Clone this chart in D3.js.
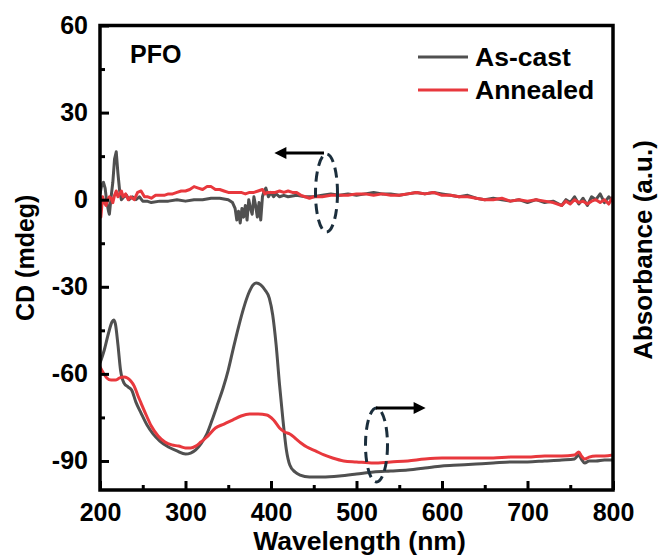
<!DOCTYPE html>
<html>
<head>
<meta charset="utf-8">
<script src="https://cdn.jsdelivr.net/npm/d3@7"></script>
<style>
  html, body { margin: 0; padding: 0; background: #fff; }
  svg text { font-family: "Liberation Sans", Arial, sans-serif; font-weight: bold; fill: #000; }
</style>
</head>
<body>
<div id="chart"></div>
<script>
// CD spectra (left axis, mdeg): [wavelength, value]
const cdAsCast = [
  [200, 2], [202, 5], [204, 6], [206, 4], [208, -1], [210, -4], [211, -5], [213, 1], [215, 6], [217, 14],
  [219, 16.5], [221, 9], [223, 3], [225, 0], [228, 1], [231, 1.5], [234, 0], [238, 1], [242, 0], [246, 1],
  [250, -0.5], [255, -0.5], [260, -1], [270, -0.5], [280, -0.5], [290, 0], [300, -0.5], [310, 0], [320, 0],
  [330, 0.5], [340, 0.5], [350, 0], [355, -1], [358, -3], [360, -7], [362, -4], [364, -8], [366, -3],
  [368, -6], [370, -2], [372, -7], [374, 0], [376, -3], [378, -5], [380, 1], [382, -2], [384, -6],
  [386, -1], [388, -7], [390, 1], [392, 3], [394, 4], [397, 1], [400, 2.5], [403, 1], [406, 2], [410, 1],
  [415, 1.5], [420, 1], [430, 1.5], [440, 1], [450, 1], [460, 1.5], [470, 2], [480, 1.5], [490, 2],
  [500, 1.5], [510, 2], [520, 2.5], [530, 2], [540, 2], [550, 1.5], [560, 2], [570, 2.5], [580, 2],
  [590, 2.5], [600, 2], [610, 1.5], [620, 1], [630, 1.5], [640, 0.5], [650, 0], [660, 0.5], [670, 0],
  [680, -0.5], [690, 0], [700, -1], [710, 0], [720, -1], [730, -0.5], [740, -2], [745, 0], [750, -1],
  [755, 1], [760, -1.5], [765, 0.5], [770, -2], [775, 1], [780, 0], [785, 2], [790, -1], [795, 1], [800, -0.5]
];
const cdAnnealed = [
  [200, -3], [201, -6], [203, 1], [205, -1], [207, -2], [209, 0], [211, 1], [213, 0.5], [215, -1], [217, 1.5],
  [219, 3], [221, 1], [223, 2], [225, 3], [227, 1], [230, 2], [233, 0], [236, 1], [240, 0], [244, 2.5],
  [248, 3], [252, 1], [256, 1], [260, 0.5], [265, 1.5], [270, 1.5], [275, 1.5], [280, 2], [285, 2],
  [290, 2.5], [295, 3], [300, 3], [305, 3.5], [310, 4.5], [315, 4], [320, 3.5], [325, 4.5], [330, 4.5],
  [335, 3.5], [340, 3.5], [345, 3], [350, 2.5], [355, 2.5], [360, 2.5], [365, 2.5], [370, 2], [375, 2.5],
  [380, 2.5], [385, 3], [390, 3.5], [393, 2], [396, 2.5], [400, 2.5], [405, 2.5], [410, 3], [415, 2.5],
  [420, 3], [425, 2.5], [430, 2.5], [435, 1.5], [440, 1], [445, 0.5], [450, 1], [460, 1], [470, 1.5],
  [480, 1.5], [490, 1.5], [500, 2], [510, 2], [520, 1.5], [530, 2], [540, 1.5], [550, 1.5], [560, 2],
  [570, 2.5], [580, 2], [590, 2.5], [600, 1.5], [610, 1.5], [620, 1], [630, 1], [640, 0.5], [650, 0],
  [660, 0], [670, 0.5], [680, -0.5], [690, 0], [700, -0.5], [710, 0], [720, -0.5], [730, -1], [740, -2],
  [745, -0.5], [750, -1.5], [755, 0], [760, -1], [765, -0.5], [770, -1.5], [775, -0.5], [780, 0],
  [785, -1], [790, 0], [795, -1.5], [800, 1]
];
// absorption spectra (right axis, a.u., normalised to As-cast peak)
const absAsCast = [
  [200, 0.585], [205, 0.653], [210, 0.741], [214, 0.798], [216, 0.808], [218, 0.788], [221, 0.679],
  [224, 0.549], [228, 0.482], [233, 0.461], [237, 0.446], [242, 0.383], [248, 0.326], [255, 0.264],
  [262, 0.218], [270, 0.181], [280, 0.150], [290, 0.130], [300, 0.114], [306, 0.119], [312, 0.135],
  [318, 0.166], [325, 0.218], [332, 0.301], [338, 0.378], [344, 0.456], [350, 0.549], [356, 0.663],
  [362, 0.772], [368, 0.870], [374, 0.948], [379, 0.990], [383, 1.0], [388, 0.990], [393, 0.964],
  [398, 0.922], [402, 0.834], [406, 0.679], [410, 0.472], [414, 0.290], [418, 0.135], [422, 0.057],
  [428, 0.021], [434, 0.005], [445, -0.005], [460, -0.005], [480, 0], [500, 0.010], [520, 0.021],
  [540, 0.026], [560, 0.031], [580, 0.041], [600, 0.052], [620, 0.057], [640, 0.062], [660, 0.067],
  [680, 0.073], [700, 0.073], [720, 0.078], [740, 0.083], [755, 0.088], [760, 0.109], [763, 0.088],
  [767, 0.067], [772, 0.078], [780, 0.078], [790, 0.083], [800, 0.083]
];
const absAnnealed = [
  [200, 0.565], [204, 0.534], [208, 0.508], [213, 0.497], [218, 0.497], [223, 0.508], [228, 0.513],
  [232, 0.508], [236, 0.492], [240, 0.466], [244, 0.420], [248, 0.378], [254, 0.316], [260, 0.259],
  [268, 0.207], [276, 0.176], [284, 0.161], [292, 0.155], [300, 0.145], [306, 0.145], [312, 0.155],
  [318, 0.176], [325, 0.202], [335, 0.249], [345, 0.269], [355, 0.290], [365, 0.311], [375, 0.321],
  [385, 0.321], [395, 0.316], [403, 0.290], [410, 0.249], [416, 0.228], [422, 0.218], [428, 0.197],
  [435, 0.171], [442, 0.150], [452, 0.130], [462, 0.109], [472, 0.093], [485, 0.078], [500, 0.073],
  [520, 0.067], [540, 0.073], [560, 0.078], [580, 0.088], [600, 0.093], [620, 0.093], [640, 0.093],
  [660, 0.093], [680, 0.098], [700, 0.098], [720, 0.104], [740, 0.104], [755, 0.109], [760, 0.124],
  [763, 0.104], [767, 0.088], [772, 0.098], [780, 0.104], [790, 0.104], [800, 0.109]
];
const xTicks = [200, 300, 400, 500, 600, 700, 800];
const xMinor = [250, 350, 450, 550, 650, 750];
const yTicks = [60, 30, 0, -30, -60, -90];
const yMinor = [45, 15, -15, -45, -75];
const seriesNames = ["As-cast", "Annealed"];
const seriesColors = ["#505050", "#e8383d"];

const width = 660, height = 558;
const mLeft = 100, mRight = 613, mTop = 25.5, mBottom = 490;

const svg = d3.select("#chart").append("svg")
  .attr("width", width).attr("height", height);

const x = d3.scaleLinear().domain([200, 800]).range([mLeft, mRight]);
const y = d3.scaleLinear().domain([-100, 60]).range([mBottom, mTop]);
const yAbs = d3.scaleLinear().domain([0, 1]).range([476, 283]);

const defs = svg.append("defs");
defs.append("clipPath").attr("id", "clip")
  .append("rect").attr("x", mLeft).attr("y", mTop).attr("width", mRight - mLeft).attr("height", mBottom - mTop);

const plot = svg.append("g").attr("clip-path", "url(#clip)");
const lineCd = d3.line().x(d => x(d[0])).y(d => y(d[1]));
const lineAbs = d3.line().x(d => x(d[0])).y(d => yAbs(d[1])).curve(d3.curveMonotoneX);

[[absAsCast, 0], [absAnnealed, 1]].forEach(([data, i]) => {
  plot.append("path").datum(data).attr("d", lineAbs)
    .attr("fill", "none").attr("stroke", seriesColors[i]).attr("stroke-width", 3)
    .attr("stroke-linejoin", "round");
});
[[cdAsCast, 0], [cdAnnealed, 1]].forEach(([data, i]) => {
  plot.append("path").datum(data).attr("d", lineCd)
    .attr("fill", "none").attr("stroke", seriesColors[i]).attr("stroke-width", 3)
    .attr("stroke-linejoin", "round");
});

// axes, ticks point inward
const fmt = d => String(d);
svg.append("g").attr("transform", `translate(0,${mBottom})`)
  .call(d3.axisBottom(x).tickValues(xTicks).tickFormat(fmt).tickSizeInner(-9).tickSizeOuter(0).tickPadding(13))
  .call(g => g.select(".domain").remove())
  .call(g => g.selectAll("line").attr("stroke-width", 3))
  .call(g => g.selectAll("text").attr("font-size", 25).attr("dy", "0.71em"));
svg.append("g").attr("transform", `translate(0,${mBottom})`)
  .call(d3.axisBottom(x).tickValues(xMinor).tickFormat("").tickSizeInner(-5).tickSizeOuter(0))
  .call(g => g.select(".domain").remove())
  .call(g => g.selectAll("line").attr("stroke-width", 3));

svg.append("g").attr("transform", `translate(${mLeft},0)`)
  .call(d3.axisLeft(y).tickValues(yTicks).tickFormat(fmt).tickSizeInner(-9).tickSizeOuter(0).tickPadding(12))
  .call(g => g.select(".domain").remove())
  .call(g => g.selectAll("line").attr("stroke-width", 3))
  .call(g => g.selectAll("text").attr("font-size", 25));
svg.append("g").attr("transform", `translate(${mLeft},0)`)
  .call(d3.axisLeft(y).tickValues(yMinor).tickFormat("").tickSizeInner(-5).tickSizeOuter(0))
  .call(g => g.select(".domain").remove())
  .call(g => g.selectAll("line").attr("stroke-width", 3));

svg.append("rect")
  .attr("x", mLeft).attr("y", mTop).attr("width", mRight - mLeft).attr("height", mBottom - mTop)
  .attr("fill", "none").attr("stroke", "#000").attr("stroke-width", 3.5);

// axis titles
svg.append("text").attr("x", (mLeft + mRight) / 2 + 3).attr("y", 550)
  .attr("text-anchor", "middle").attr("font-size", 26.5).text("Wavelength (nm)");
svg.append("text").attr("transform", `translate(34,${(mTop + mBottom) / 2}) rotate(-90)`)
  .attr("text-anchor", "middle").attr("font-size", 25).text("CD (mdeg)");
svg.append("text").attr("transform", `translate(652,250) rotate(-90)`)
  .attr("text-anchor", "middle").attr("font-size", 26).text("Absorbance (a.u.)");

svg.append("text").attr("x", 130).attr("y", 63).attr("font-size", 25).text("PFO");

// legend
seriesNames.forEach((name, i) => {
  const ly = 57 + i * 33;
  svg.append("line").attr("x1", 418).attr("x2", 468).attr("y1", ly).attr("y2", ly)
    .attr("stroke", seriesColors[i]).attr("stroke-width", 3);
  svg.append("text").attr("x", 475).attr("y", ly + 9).attr("font-size", 26.5).text(name);
});

// axis indicators: dashed ellipses with arrows
const ind = "#1b2e3c";
defs.append("marker").attr("id", "head")
  .attr("viewBox", "0 0 10 10").attr("refX", 2).attr("refY", 5)
  .attr("markerWidth", 4.5).attr("markerHeight", 4)
  .attr("orient", "auto").attr("markerUnits", "strokeWidth")
  .append("path").attr("d", "M0,0L10,5L0,10Z").attr("fill", "#000");

svg.append("ellipse").attr("cx", 326.5).attr("cy", 193).attr("rx", 11).attr("ry", 39)
  .attr("fill", "none").attr("stroke", ind).attr("stroke-width", 3).attr("stroke-dasharray", "10,6");
svg.append("line").attr("x1", 324).attr("y1", 153).attr("x2", 284).attr("y2", 153)
  .attr("stroke", "#000").attr("stroke-width", 3).attr("marker-end", "url(#head)");

svg.append("ellipse").attr("cx", 376.5).attr("cy", 445).attr("rx", 11).attr("ry", 37)
  .attr("fill", "none").attr("stroke", ind).attr("stroke-width", 3).attr("stroke-dasharray", "10,6");
svg.append("line").attr("x1", 376).attr("y1", 408).attr("x2", 416).attr("y2", 408)
  .attr("stroke", "#000").attr("stroke-width", 3).attr("marker-end", "url(#head)");
</script>
</body>
</html>
